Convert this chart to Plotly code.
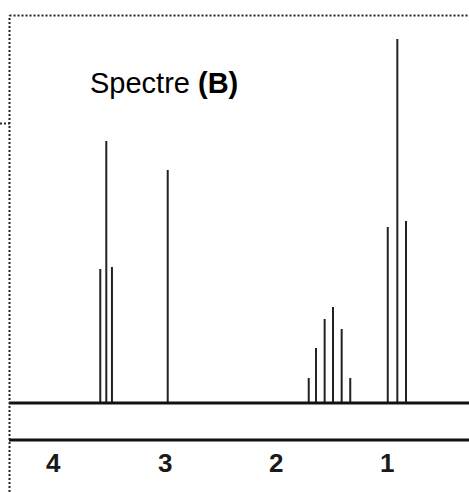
import plotly.graph_objects as go

# Chemical shifts (ppm) and relative peak heights
shifts = [3.578, 3.524, 3.473,
          2.972,
          1.705, 1.640, 1.562, 1.487, 1.409, 1.332,
          0.995, 0.909, 0.831]
heights = [134, 262, 136,
           233,
           25, 55, 84, 96, 74, 25,
           176, 364, 182]
tick_values = [4, 3, 2, 1]
tick_labels = ["4", "3", "2", "1"]
title_text = "Spectre <b>(B)</b>"

xs, ys = [], []
for s, h in zip(shifts, heights):
    xs += [s, s, None]
    ys += [0, h, None]

fig = go.Figure()
fig.add_trace(go.Scatter(x=xs, y=ys, mode="lines",
                         line=dict(color="#222222", width=2),
                         hoverinfo="skip", showlegend=False))

W, H = 469, 492
left_px = 9
fig.update_layout(
    width=W, height=H,
    margin=dict(l=0, r=0, t=0, b=0),
    paper_bgcolor="white", plot_bgcolor="white",
    xaxis=dict(range=[4.479, 0.265], visible=False, fixedrange=True),
    yaxis=dict(range=[-89, 403], visible=False, fixedrange=True),
    font=dict(family="Liberation Sans, Arial, sans-serif", color="black"),
)

lx = (left_px + 0.5) / W
# baseline and lower axis line
fig.add_shape(type="line", xref="paper", yref="y", x0=left_px / W, x1=1, y0=0, y1=0,
              line=dict(color="#111111", width=3))
fig.add_shape(type="line", xref="paper", yref="y", x0=left_px / W, x1=1, y0=-37, y1=-37,
              line=dict(color="#111111", width=3))
# dotted frame
dot = "2px,2px"
top_y = 1 - 15.5 / H
fig.add_shape(type="line", xref="paper", yref="paper", x0=lx, x1=1, y0=top_y, y1=top_y,
              line=dict(color="#222222", width=2, dash=dot))
fig.add_shape(type="line", xref="paper", yref="paper", x0=lx, x1=lx, y0=0, y1=top_y,
              line=dict(color="#222222", width=2, dash=dot))
mid_y = 1 - 123.5 / H
fig.add_shape(type="line", xref="paper", yref="paper", x0=0, x1=lx, y0=mid_y, y1=mid_y,
              line=dict(color="#222222", width=2, dash=dot))

for v, t in zip(tick_values, tick_labels):
    fig.add_annotation(x=v, y=-60, xref="x", yref="y", text=f"<b>{t}</b>",
                       showarrow=False, xanchor="center", yanchor="middle",
                       font=dict(size=26, color="#1a1a1a"))

fig.add_annotation(x=164 / W, y=1 - 83 / H, xref="paper", yref="paper",
                   text=title_text, showarrow=False,
                   xanchor="center", yanchor="middle",
                   font=dict(size=29, color="black"))

fig.write_html("out.html")
